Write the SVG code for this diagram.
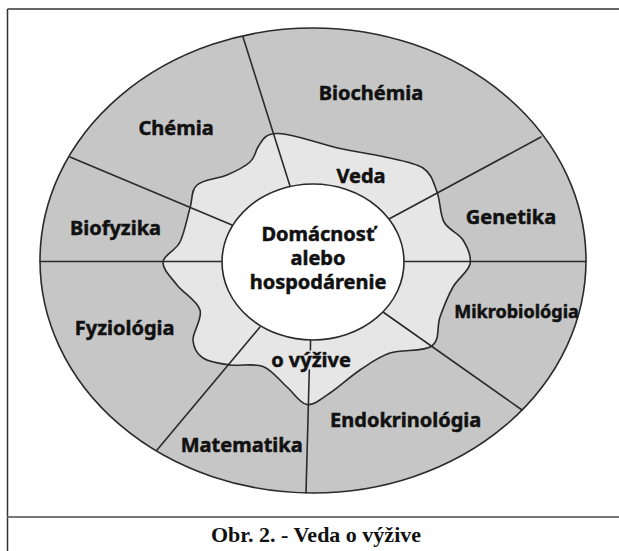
<svg xmlns="http://www.w3.org/2000/svg" width="619" height="551" viewBox="0 0 619 551">
<style>
.ln{stroke:#2a2a2a;stroke-width:1.6;fill:none;stroke-linecap:round}
.lbl{font-family:"Noto Sans","Open Sans","Liberation Sans",sans-serif;font-weight:700;font-size:20px;fill:#111;stroke:#111;stroke-width:0.5;text-anchor:middle}
.cap{font-family:"Liberation Serif",serif;font-weight:bold;font-size:22px;fill:#111;text-anchor:middle}
</style>
<defs>
<path id="wave" d="M278,133.5 C283.7,133.7 289.7,135 300,137.5 S326.2,145.3 340,148.5 S369.2,153.25 383,156.5 S414,162.1 423,168 S433.5,183 437,192 S439.7,214 444,222 S458.7,233 463,240 S471.7,256.2 470,264 S458,278.2 453,287 S443.5,307.2 440,317 S440.3,340 432,346 S402,349 390,353 S370,363.3 360,370 S338.8,387.25 330,393 S314.2,405.5 307,404.5 S294.3,393.3 287,387 S272.5,370.2 263,366.5 S240,366.4 230,365 S209.2,362.2 203,358 S193.5,348 193,340 S202.7,319.2 200,310 S183.2,293 177,285 S162.5,269.2 163,262 S175.5,251 180,242 S187.2,217.5 190,208 S190.8,190.5 197,185 S218.2,178.8 227,175 S244.8,166.7 250,162 S255.3,151.25 258,147 S262.7,138.75 266,136.5 S272.3,133.3 278,133.5 Z"/>
</defs>
<rect width="619" height="551" fill="#fff"/>
<g id="frame">
<line x1="7.5" y1="9" x2="619" y2="9" stroke="#333" stroke-width="1.5"/>
<line x1="7.5" y1="9" x2="7.5" y2="551" stroke="#333" stroke-width="1.5"/>
<line x1="7.5" y1="517" x2="619" y2="517" stroke="#777" stroke-width="2"/>
</g>
<g id="outer-ring">
<ellipse cx="313" cy="260.5" rx="273" ry="232.5" fill="#c6c6c6"/>
</g>
<g id="veda-o-vyzive">
<use href="#wave" fill="#e6e6e6"/>
</g>
<g id="connectors">
<line class="ln" x1="243" y1="37" x2="290" y2="186"/>
<line class="ln" x1="70" y1="157" x2="232" y2="225"/>
<line class="ln" x1="40" y1="261.5" x2="222" y2="261.5"/>
<line class="ln" x1="541" y1="137" x2="389" y2="219"/>
<line class="ln" x1="404" y1="261.5" x2="586" y2="261.5"/>
<line class="ln" x1="383" y1="312" x2="522" y2="410"/>
<line class="ln" x1="260" y1="327" x2="157" y2="450"/>
<line class="ln" x1="310.6" y1="338" x2="310.4" y2="350"/>
<line class="ln" x1="309.3" y1="370" x2="306" y2="493"/>
<use href="#wave" class="ln"/>
<ellipse class="ln" cx="313" cy="260.5" rx="273" ry="232.5"/>
</g>
<g id="center">
<ellipse cx="313" cy="262" rx="91" ry="78" fill="#fff" stroke="#2a2a2a" stroke-width="1.6"/>
<text class="lbl" x="318" y="240.7">Domácnosť</text>
<text class="lbl" x="318" y="265">alebo</text>
<text class="lbl" x="318" y="289.3">hospodárenie</text>
</g>
<g id="n-chemia"><text class="lbl" x="176" y="135">Chémia</text></g>
<g id="n-biochemia"><text class="lbl" x="371" y="100">Biochémia</text></g>
<g id="n-veda"><text class="lbl" x="361" y="183.3">Veda</text></g>
<g id="n-genetika"><text class="lbl" x="511" y="224">Genetika</text></g>
<g id="n-biofyzika"><text class="lbl" x="115.5" y="235">Biofyzika</text></g>
<g id="n-mikrobiologia"><text class="lbl" x="516.5" y="318.3" style="font-size:18px">Mikrobiológia</text></g>
<g id="n-fyziologia"><text class="lbl" x="124.7" y="335">Fyziológia</text></g>
<g id="n-ovyzive"><text class="lbl" x="311" y="367">o výžive</text></g>
<g id="n-endokrinologia"><text class="lbl" x="405.7" y="426.7">Endokrinológia</text></g>
<g id="n-matematika"><text class="lbl" x="241.7" y="451.7">Matematika</text></g>
<g id="caption"><text class="cap" x="316" y="541.7">Obr. 2. - Veda o výžive</text></g>
</svg>
